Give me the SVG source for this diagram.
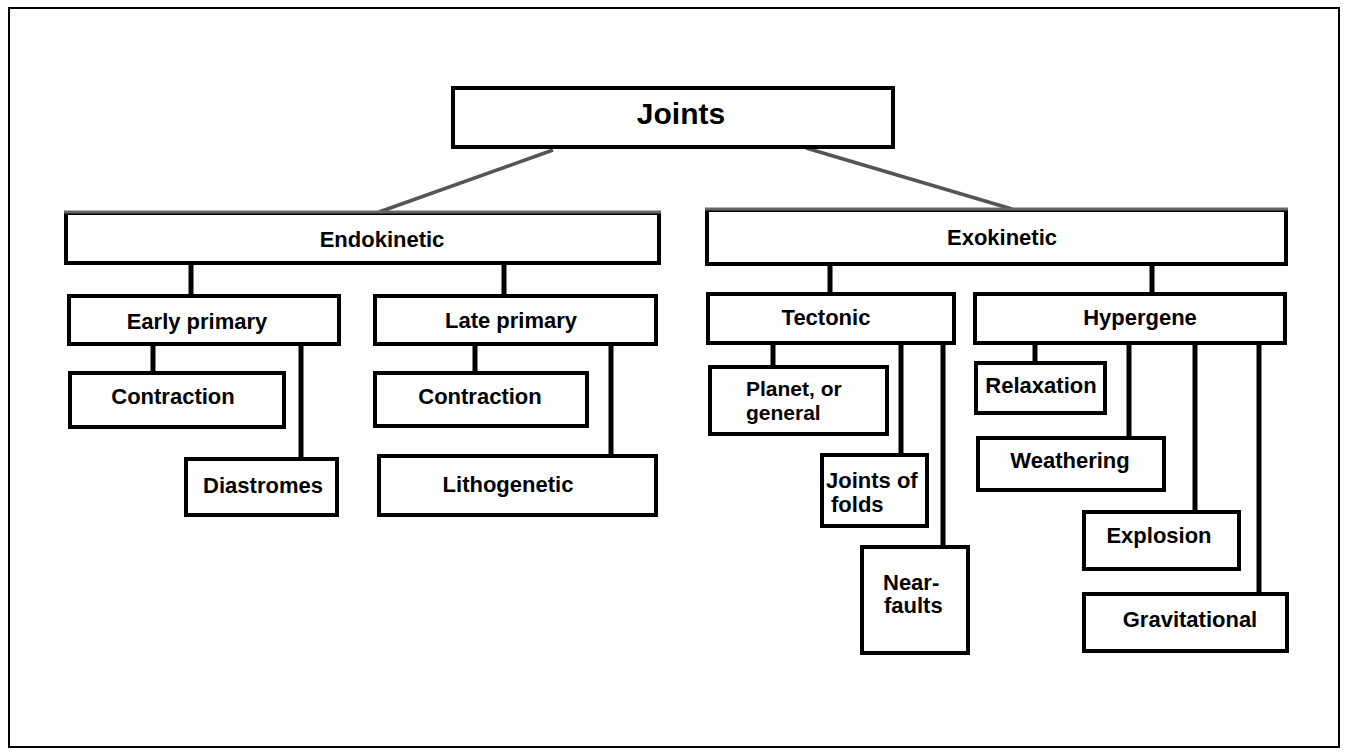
<svg xmlns="http://www.w3.org/2000/svg" width="1350" height="756" viewBox="0 0 1350 756">
<style>
.box{fill:#fff;stroke:#000;stroke-width:4}
.t{font-family:"Liberation Sans",Arial,sans-serif;font-weight:bold;font-size:22px;fill:#000}
.tc{text-anchor:middle}
.c{stroke:#000;stroke-width:5;fill:none}
.g{stroke:#555;stroke-width:3.5;fill:none}
.gt{stroke:#666;stroke-width:3;fill:none}
</style>
<rect x="0" y="0" width="1350" height="756" fill="#fff"/>
<rect x="9" y="8" width="1330" height="739" fill="none" stroke="#000" stroke-width="2"/>

<g id="connectors">
<line class="g" x1="553" y1="150" x2="379" y2="212"/>
<line class="g" x1="806" y1="148" x2="1012" y2="209"/>
<line class="c" x1="191" y1="265" x2="191" y2="294"/>
<line class="c" x1="504" y1="265" x2="504" y2="294"/>
<line class="c" x1="830" y1="266" x2="830" y2="292"/>
<line class="c" x1="1152" y1="266" x2="1152" y2="292"/>
<line class="c" x1="153" y1="346" x2="153" y2="371"/>
<line class="c" x1="301" y1="346" x2="301" y2="457"/>
<line class="c" x1="475" y1="346" x2="475" y2="371"/>
<line class="c" x1="611" y1="346" x2="611" y2="454"/>
<line class="c" x1="773" y1="345" x2="773" y2="365"/>
<line class="c" x1="901" y1="345" x2="901" y2="453"/>
<line class="c" x1="943" y1="345" x2="943" y2="545"/>
<line class="c" x1="1035" y1="345" x2="1035" y2="361"/>
<line class="c" x1="1129" y1="345" x2="1129" y2="436"/>
<line class="c" x1="1195" y1="345" x2="1195" y2="510"/>
<line class="c" x1="1259" y1="345" x2="1259" y2="592"/>
</g>

<g id="joints">
<rect class="box" x="453" y="88" width="440" height="59"/>
<text class="t tc" x="681" y="124" style="font-size:30px">Joints</text>
</g>

<g id="endokinetic">
<rect class="box" x="66" y="213" width="593" height="50"/>
<line class="gt" x1="64" y1="212" x2="661" y2="212"/>
<text class="t tc" x="382" y="247">Endokinetic</text>
</g>

<g id="exokinetic">
<rect class="box" x="707" y="210" width="579" height="54"/>
<line class="gt" x1="705" y1="209" x2="1288" y2="209"/>
<text class="t tc" x="1002" y="245">Exokinetic</text>
</g>

<g id="early-primary">
<rect class="box" x="69" y="296" width="270" height="48"/>
<text class="t tc" x="197" y="329">Early primary</text>
</g>

<g id="late-primary">
<rect class="box" x="375" y="296" width="281" height="48"/>
<text class="t tc" x="511" y="328">Late primary</text>
</g>

<g id="contraction-1">
<rect class="box" x="70" y="373" width="214" height="54"/>
<text class="t tc" x="173" y="404">Contraction</text>
</g>

<g id="diastromes">
<rect class="box" x="186" y="459" width="151" height="56"/>
<text class="t tc" x="263" y="493">Diastromes</text>
</g>

<g id="contraction-2">
<rect class="box" x="375" y="373" width="212" height="53"/>
<text class="t tc" x="480" y="404">Contraction</text>
</g>

<g id="lithogenetic">
<rect class="box" x="379" y="456" width="277" height="59"/>
<text class="t tc" x="508" y="492">Lithogenetic</text>
</g>

<g id="tectonic">
<rect class="box" x="708" y="294" width="246" height="49"/>
<text class="t tc" x="826" y="325">Tectonic</text>
</g>

<g id="hypergene">
<rect class="box" x="975" y="294" width="310" height="49"/>
<text class="t tc" x="1140" y="325">Hypergene</text>
</g>

<g id="planet-general">
<rect class="box" x="710" y="367" width="177" height="67"/>
<text class="t" x="746" y="396" style="font-size:21px">Planet, or</text>
<text class="t" x="746" y="420" style="font-size:21px">general</text>
</g>

<g id="joints-of-folds">
<rect class="box" x="822" y="455" width="105" height="71"/>
<text class="t" x="826" y="488">Joints of</text>
<text class="t" x="831" y="512">folds</text>
</g>

<g id="near-faults">
<rect class="box" x="862" y="547" width="106" height="106"/>
<text class="t" x="883" y="590">Near-</text>
<text class="t" x="884" y="613">faults</text>
</g>

<g id="relaxation">
<rect class="box" x="976" y="363" width="129" height="50"/>
<text class="t tc" x="1041" y="393">Relaxation</text>
</g>

<g id="weathering">
<rect class="box" x="978" y="438" width="186" height="52"/>
<text class="t tc" x="1070" y="468">Weathering</text>
</g>

<g id="explosion">
<rect class="box" x="1084" y="512" width="155" height="57"/>
<text class="t tc" x="1159" y="543">Explosion</text>
</g>

<g id="gravitational">
<rect class="box" x="1084" y="594" width="203" height="57"/>
<text class="t tc" x="1190" y="627">Gravitational</text>
</g>
</svg>
